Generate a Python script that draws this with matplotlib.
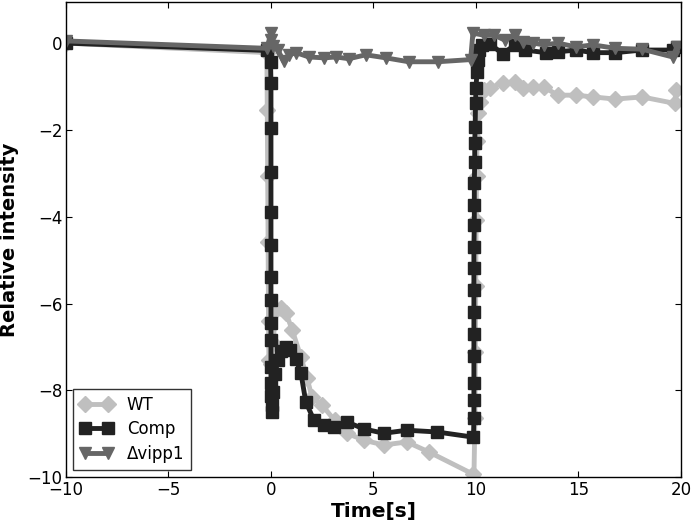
import matplotlib
matplotlib.use("Agg")
import matplotlib.pyplot as plt

# -------- DATA --------
wt_t = [-10, -0.2, -0.18, -0.16, -0.14, -0.12, -0.1, 0.0, 0.1, 0.24, 0.5, 0.73, 1.03,
        1.46, 1.76, 2.0, 2.49, 3.1, 3.7, 4.54, 5.5, 6.63, 7.7, 9.85, 9.9,
        9.95, 9.97, 9.99, 10.01, 10.03, 10.05, 10.1, 10.2, 10.4, 10.7, 11.3, 11.9,
        12.3, 12.8, 13.3, 14.0, 14.9, 15.7, 16.8, 18.1, 19.7, 19.75]
wt_y = [0.0, -0.22, -1.54, -3.06, -4.58, -6.4, -7.3, -7.4, -6.9, -6.15, -6.1, -6.22, -6.6,
        -7.23, -7.72, -8.15, -8.34, -8.69, -8.99, -9.15, -9.26, -9.19, -9.42, -9.93, -10.05,
        -8.64, -7.12, -5.6, -4.08, -3.06, -2.25, -1.61, -1.35, -1.09, -1.03, -0.92, -0.89,
        -1.03, -1.01, -1.01, -1.2, -1.2, -1.24, -1.29, -1.24, -1.39, -1.09]

comp_t = [-10, -0.2, -0.02, 0.0, 0.0, 0.0, 0.0, 0.0, 0.0, 0.0,
          0.0, 0.0, 0.0, 0.01, 0.02, 0.04, 0.06, 0.1, 0.2, 0.34,
          0.5, 0.73, 0.95, 1.2, 1.46, 1.7, 2.1, 2.58, 3.07, 3.7,
          4.54, 5.5, 6.63, 8.1, 9.88, 9.9, 9.9, 9.9, 9.9, 9.9,
          9.9, 9.9, 9.9, 9.9, 9.92, 9.92, 9.92, 9.94, 9.94, 9.96,
          9.98, 10.0, 10.05, 10.1, 10.15, 10.3, 10.7, 11.3, 11.9, 12.4,
          13.4, 14.0, 14.9, 15.7, 16.8, 18.1, 19.6, 19.8]
comp_y = [0.0, -0.17, -0.44, -0.92, -1.96, -2.96, -3.9, -4.66, -5.4, -5.92,
          -6.45, -6.85, -7.46, -7.83, -8.13, -8.5, -8.33, -8.03, -7.62, -7.3,
          -7.1, -7.0, -7.07, -7.27, -7.6, -8.27, -8.69, -8.8, -8.85, -8.73,
          -8.89, -8.99, -8.92, -8.96, -9.08, -8.64, -8.23, -7.83, -7.22, -6.71,
          -6.2, -5.7, -5.19, -4.69, -4.18, -3.73, -3.22, -2.74, -2.3, -1.94,
          -1.38, -1.04, -0.67, -0.39, -0.16, -0.04, -0.02, -0.25, -0.04, -0.16,
          -0.22, -0.2, -0.16, -0.22, -0.22, -0.16, -0.16, -0.09]

vipp_t = [-10, -0.2, 0.0, 0.02, 0.1, 0.34, 0.62, 0.9, 1.22, 1.85, 2.6, 3.17, 3.8,
          4.63, 5.6, 6.72, 8.13, 9.74, 9.85, 10.4, 10.9, 11.4, 11.9, 12.3, 12.8,
          13.3, 14.0, 14.9, 15.7, 16.8, 18.1, 19.6, 19.8]
vipp_y = [0.05, -0.12, 0.23, 0.08, -0.07, -0.16, -0.42, -0.27, -0.22, -0.32, -0.34, -0.32,
          -0.36, -0.27, -0.34, -0.43, -0.43, -0.38, 0.23, 0.18, 0.18, 0.07, 0.18, 0.03,
          0.0, -0.04, 0.0, -0.09, -0.04, -0.12, -0.14, -0.32, -0.09]

labels = ["WT", "Comp", "\u0394vipp1"]

plt.rcParams["font.family"] = "DejaVu Sans"
plt.rcParams["xtick.direction"] = "in"
plt.rcParams["ytick.direction"] = "in"
plt.rcParams["xtick.top"] = True
plt.rcParams["ytick.right"] = True

fig = plt.figure(figsize=(6.93, 5.22), dpi=100)
ax = fig.add_axes([0.0952, 0.086, 0.8874, 0.91])

ax.plot(wt_t, wt_y, color="#bfbfbf", marker="D", ms=8, lw=3.5,
        markeredgecolor="#bfbfbf", label=labels[0])
ax.plot(comp_t, comp_y, color="#222222", marker="s", ms=8, lw=3.5,
        markeredgecolor="#222222", label=labels[1])
ax.plot(vipp_t, vipp_y, color="#666666", marker="v", ms=9, lw=3.5,
        markeredgecolor="#666666", label=labels[2])

ax.set_xlim(-10, 20)
ax.set_ylim(-10, 0.945)
ax.set_xticks([-10, -5, 0, 5, 10, 15, 20])
ax.set_yticks([-10, -8, -6, -4, -2, 0])
ax.tick_params(labelsize=12, length=4, width=0.8)
ax.tick_params(axis="x", pad=3)
ax.tick_params(axis="y", pad=2.5)
for s in ax.spines.values():
    s.set_linewidth(1.0)

ax.set_xlabel("Time[s]", fontsize=14.5, fontweight="bold", labelpad=2)
ax.set_ylabel("Relative intensity", fontsize=14, fontweight="bold", labelpad=6)

leg = ax.legend(loc="lower left", numpoints=2, fontsize=12, handlelength=2.0,
                handletextpad=0.8, fancybox=False, borderaxespad=0.45,
                labelspacing=0.4)
leg.get_frame().set_edgecolor("black")
leg.get_frame().set_linewidth(1.0)

fig.savefig("out.png", dpi=100)
